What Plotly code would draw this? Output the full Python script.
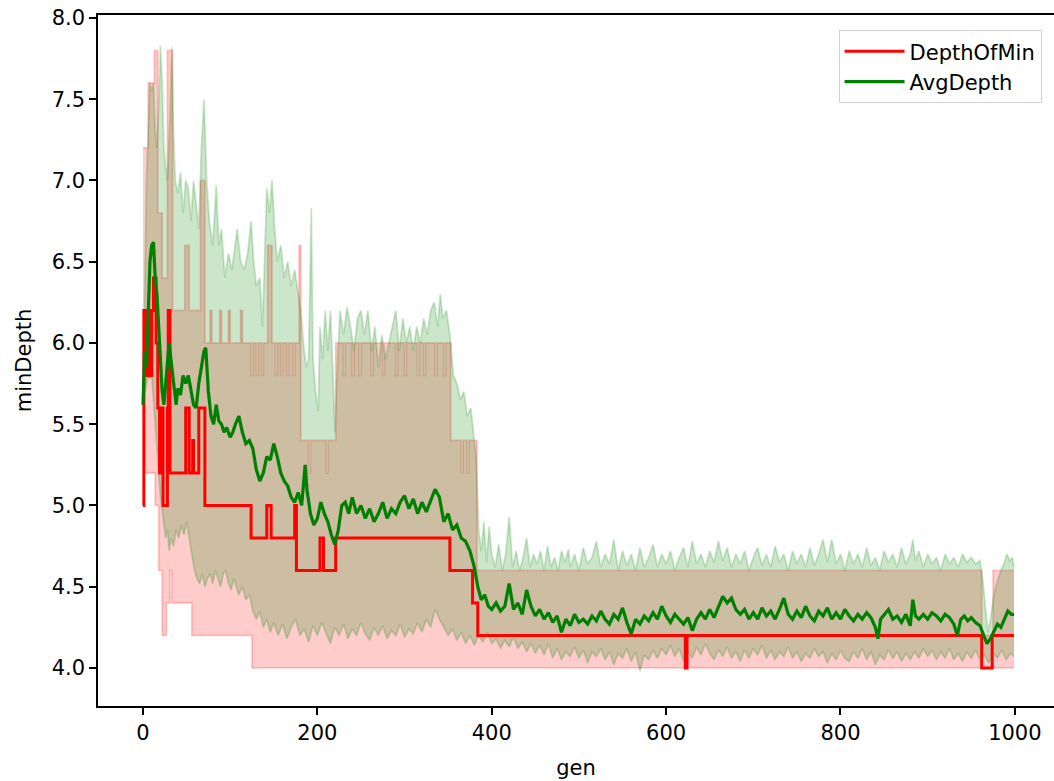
import plotly.graph_objects as go

# ---------------- data ----------------
# DepthOfMin (mean line, piecewise constant)
min_gen = [0, 1, 3, 4, 6, 7, 9, 10, 12, 15, 17, 19, 21, 23, 28, 29, 31, 49, 53, 57, 58, 64, 71,
           124, 142, 147, 174, 176, 203, 207, 221, 352, 378, 384, 622, 624, 962, 974, 999]
min_val = [5.0, 6.2, 5.8, 6.2, 5.8, 6.2, 5.8, 6.2, 6.4, 6.0, 5.6, 5.2, 5.6, 5.0, 5.6, 6.2, 5.2, 5.6, 5.2, 5.4, 5.2, 5.6, 5.0,
           4.8, 5.0, 4.8, 5.0, 4.6, 4.8, 4.6, 4.8, 4.6, 4.4, 4.2, 4.0, 4.2, 4.0, 4.2, 4.2]

# DepthOfMin band, lower edge
minlo_gen = [0, 1, 14, 18, 22, 27, 31, 33, 56, 125, 999]
minlo_val = [5.0, 5.2, 5.0, 4.6, 4.2, 4.4, 4.6, 4.4, 4.2, 4.0, 4.0]

# DepthOfMin band, upper edge
minhi_gen = [0, 6, 13, 17, 22, 28, 34, 48, 53, 66, 71, 77, 79, 88, 90, 98, 100, 112, 114,
             124, 126, 130, 132, 136, 138, 143, 148, 152, 154, 158, 160, 165, 167, 172, 174, 179, 181,
             190, 192, 210, 212, 221, 230, 232, 240, 242, 248, 250, 262, 264, 275, 277, 290, 292,
             300, 302, 315, 317, 322, 324, 335, 337, 345, 347, 353, 365, 367, 372, 374, 383, 962, 975, 999]
minhi_val = [7.2, 7.6, 7.8, 6.8, 6.4, 7.8, 6.2, 6.6, 6.2, 7.0, 6.0, 6.2, 6.0, 6.2, 6.0, 6.2, 6.0, 6.2, 6.0,
             5.8, 6.0, 5.8, 6.0, 5.8, 6.0, 6.6, 6.0, 5.8, 6.0, 5.8, 6.0, 5.8, 6.0, 5.8, 6.0, 6.6, 5.4,
             5.2, 5.4, 5.2, 5.4, 6.0, 5.8, 6.0, 5.8, 6.0, 5.8, 6.0, 5.8, 6.0, 5.8, 6.0, 5.8, 6.0,
             5.8, 6.0, 5.8, 6.0, 5.8, 6.0, 5.8, 6.0, 5.8, 6.0, 5.4, 5.2, 5.4, 5.2, 5.4, 4.6, 4.2, 4.6, 4.6]

# AvgDepth (mean line)
avg_gen = [0, 2, 4, 6, 8, 10, 12, 14, 16, 18, 20, 22, 24, 26, 28, 30, 32, 35, 38, 40, 43, 46, 49, 52, 55,
           58, 61, 64, 67, 70, 72, 75, 78, 81, 84, 87, 90, 93, 96, 100, 103, 106, 110, 114, 118, 122, 126,
           130, 134, 138, 142, 146, 150, 154, 158, 162, 166, 170, 174, 178, 182, 186, 188, 192, 196, 200,
           204, 208, 212, 216, 220, 224, 228, 232, 236, 240, 245, 250, 255, 260, 265, 270, 275, 280, 285,
           290, 295, 300, 305, 310, 315, 320, 325, 330, 335, 340, 345, 350, 355, 360, 365, 370, 375, 380,
           384, 388, 392, 396, 400, 405, 410, 415, 420, 425, 430, 435, 440, 445, 450, 455, 460, 465, 470,
           475, 480, 485, 490, 495, 500, 505, 510, 515, 520, 525, 530, 535, 540, 545, 550, 555, 560, 565,
           570, 575, 580, 585, 590, 595, 600, 605, 610, 615, 620, 625, 630, 635, 640, 645, 650, 655, 660,
           665, 670, 675, 680, 685, 690, 695, 700, 705, 710, 715, 720, 725, 730, 735, 740, 745, 750, 755,
           760, 765, 770, 775, 780, 785, 790, 795, 800, 805, 810, 815, 820, 825, 830, 835, 840, 843, 846,
           850, 855, 860, 865, 870, 875, 880, 883, 886, 890, 895, 900, 905, 910, 915, 920, 925, 930, 934,
           938, 942, 946, 950, 955, 960, 964, 968, 972, 976, 980, 984, 988, 992, 996, 999]
avg_val = [5.62, 5.95, 5.85, 6.2, 6.5, 6.6, 6.62, 6.4, 6.3, 6.1, 5.85, 5.7, 5.62, 5.75, 5.9, 6.0, 5.9, 5.75, 5.62, 5.72, 5.68, 5.8, 5.75, 5.8, 5.72,
           5.62, 5.6, 5.75, 5.85, 5.95, 5.97, 5.7, 5.55, 5.5, 5.62, 5.52, 5.5, 5.45, 5.48, 5.42, 5.45, 5.5, 5.55, 5.45, 5.38, 5.4, 5.35,
           5.22, 5.15, 5.2, 5.3, 5.28, 5.38, 5.3, 5.2, 5.15, 5.12, 5.05, 5.02, 5.08, 5.0, 5.25, 5.1, 4.95, 4.88, 4.92,
           5.02, 4.95, 4.9, 4.82, 4.76, 4.85, 5.0, 5.02, 4.95, 5.05, 4.95, 5.0, 4.92, 4.98, 4.9, 4.95, 5.02, 4.92, 4.98,
           4.95, 5.02, 5.06, 4.98, 5.04, 4.95, 5.02, 4.96, 5.03, 5.1, 5.05, 4.9, 4.95, 4.85, 4.88, 4.8, 4.78, 4.72, 4.62,
           4.5, 4.42, 4.45, 4.38, 4.36, 4.4, 4.35, 4.38, 4.52, 4.36, 4.4, 4.33, 4.48, 4.38, 4.32, 4.36, 4.3, 4.34, 4.28,
           4.32, 4.22, 4.3, 4.26, 4.33, 4.28, 4.3, 4.27, 4.32, 4.29, 4.35, 4.3, 4.27, 4.33, 4.3, 4.37, 4.28, 4.21, 4.3,
           4.27, 4.32, 4.29, 4.34, 4.3, 4.38, 4.32, 4.28, 4.33, 4.3, 4.27, 4.31, 4.23, 4.3, 4.34, 4.3, 4.36, 4.31, 4.38,
           4.44, 4.4, 4.43, 4.36, 4.33, 4.36, 4.3, 4.34, 4.3, 4.37, 4.32, 4.35, 4.3, 4.36, 4.43, 4.33, 4.3, 4.35, 4.31,
           4.38, 4.32, 4.29, 4.35, 4.32, 4.37, 4.3, 4.34, 4.3, 4.36, 4.32, 4.29, 4.33, 4.3, 4.34, 4.31, 4.25, 4.18, 4.3,
           4.33, 4.36, 4.3, 4.32, 4.28, 4.33, 4.26, 4.42, 4.32, 4.3, 4.33, 4.3, 4.34, 4.32, 4.29, 4.33, 4.31, 4.27, 4.2,
           4.3, 4.32, 4.29, 4.31, 4.28, 4.26, 4.2, 4.15, 4.18, 4.22, 4.27, 4.25, 4.3, 4.35, 4.33, 4.33]

# AvgDepth band, upper edge
avghi_gen = [0, 2, 4, 6, 8, 10, 12, 14, 16, 18, 20, 22, 24, 26, 28, 31, 33, 35, 37, 40, 43, 46, 49, 52, 55,
             58, 61, 64, 67, 70, 73, 76, 80, 84, 87, 90, 94, 98, 102, 106, 108, 112, 116, 120, 124, 127, 130,
             134, 137, 140, 142, 145, 148, 151, 154, 158, 162, 166, 170, 174, 178, 181, 184, 187, 190, 193,
             195, 198, 201, 203, 206, 209, 212, 215, 218, 220, 223, 226, 230, 234, 238, 242, 246, 250, 254,
             258, 262, 266, 270, 274, 278, 282, 286, 290, 294, 298, 302, 306, 310, 314, 318, 322, 326, 330,
             334, 338, 341, 344, 348, 352, 356, 360, 364, 368, 372, 376, 379, 382, 385, 388, 391, 394, 397,
             400, 404, 408, 412, 416, 420, 424, 428, 432, 436, 440, 444, 448, 452, 456, 460, 464, 468, 472,
             476, 480, 484, 488, 490, 495, 500, 505, 510, 515, 520, 525, 530, 535, 540, 545, 550, 555, 560,
             565, 570, 575, 580, 585, 590, 595, 600, 605, 610, 615, 620, 625, 630, 635, 640, 645, 650, 655,
             660, 665, 670, 675, 680, 685, 690, 695, 700, 705, 710, 715, 720, 725, 730, 735, 740, 745, 750,
             755, 760, 765, 770, 775, 780, 785, 790, 795, 800, 805, 810, 815, 820, 825, 830, 835, 840, 845,
             850, 855, 860, 865, 870, 875, 880, 883, 886, 890, 895, 900, 905, 910, 915, 920, 925, 930, 935,
             940, 945, 950, 955, 960, 963, 966, 969, 972, 975, 978, 981, 984, 988, 991, 994, 997, 999]
avghi_val = [5.65, 6.3, 7.0, 7.3, 7.6, 7.55, 7.6, 7.3, 7.2, 7.45, 7.83, 7.6, 7.2, 7.08, 7.0, 7.4, 7.82, 7.3, 7.0, 6.92, 7.05, 6.8, 7.0, 6.95, 6.75,
             7.0, 6.85, 6.7, 7.2, 7.5, 7.0, 6.75, 6.6, 6.97, 6.6, 6.7, 6.4, 6.55, 6.45, 6.6, 6.7, 6.5, 6.45, 6.55, 6.75, 6.5, 6.35,
             6.4, 6.1, 6.6, 6.95, 6.8, 7.0, 6.7, 6.5, 6.6, 6.4, 6.5, 6.35, 6.45, 6.3, 6.2, 6.0, 5.85, 5.9, 6.83,
             5.9, 5.7, 5.58, 6.1, 5.9, 6.2, 5.95, 6.2, 5.8, 5.45, 5.85, 6.2, 6.05, 6.22, 6.1, 5.95, 6.15, 6.2, 6.05,
             6.2, 5.95, 6.1, 5.85, 6.05, 5.9, 6.0, 6.1, 6.2, 5.95, 6.15, 6.0, 6.1, 5.95, 6.1, 6.0, 6.15, 6.05, 6.2,
             6.25, 6.1, 6.3, 6.15, 6.2, 6.05, 5.8, 5.75, 5.65, 5.7, 5.55, 5.6, 5.45, 5.3, 4.85, 4.72, 4.9, 4.65, 4.87,
             4.7, 4.62, 4.76, 4.6, 4.7, 4.93, 4.62, 4.72, 4.6, 4.68, 4.8, 4.62, 4.7, 4.64, 4.72, 4.6, 4.75, 4.62, 4.68,
             4.6, 4.72, 4.65, 4.73, 4.62, 4.7, 4.6, 4.74, 4.64, 4.68, 4.78, 4.62, 4.7, 4.64, 4.79, 4.6, 4.72, 4.63, 4.7,
             4.6, 4.74, 4.62, 4.68, 4.76, 4.62, 4.7, 4.64, 4.72, 4.6, 4.68, 4.74, 4.62, 4.78, 4.64, 4.7, 4.62, 4.72, 4.65,
             4.78, 4.66, 4.74, 4.62, 4.7, 4.64, 4.72, 4.6, 4.68, 4.74, 4.63, 4.7, 4.62, 4.75, 4.65, 4.7, 4.6, 4.72, 4.64,
             4.7, 4.62, 4.74, 4.63, 4.7, 4.79, 4.65, 4.79, 4.64, 4.7, 4.6, 4.72, 4.64, 4.7, 4.62, 4.74, 4.63, 4.68, 4.6,
             4.72, 4.65, 4.7, 4.62, 4.74, 4.64, 4.7, 4.79, 4.66, 4.72, 4.62, 4.7, 4.64, 4.68, 4.6, 4.7, 4.64, 4.68, 4.62,
             4.7, 4.65, 4.68, 4.64, 4.66, 4.55, 4.4, 4.22, 4.3, 4.42, 4.5, 4.55, 4.6, 4.65, 4.7, 4.66, 4.68, 4.62]

# AvgDepth band, lower edge
avglo_gen = [0, 2, 4, 6, 8, 10, 12, 14, 16, 18, 20, 22, 24, 26, 28, 30, 32, 35, 38, 41, 44, 47, 50, 53, 56,
             59, 62, 65, 68, 71, 74, 77, 80, 83, 86, 89, 92, 95, 98, 101, 104, 107, 110, 114, 118, 122, 126,
             130, 134, 138, 142, 146, 150, 155, 160, 165, 170, 175, 180, 185, 190, 195, 200, 205, 210, 215,
             220, 225, 230, 235, 240, 245, 250, 255, 260, 265, 270, 275, 280, 285, 290, 295, 300, 305, 310,
             315, 320, 325, 330, 335, 340, 345, 350, 355, 360, 365, 370, 375, 380, 385, 390, 395, 400, 405,
             410, 415, 420, 425, 430, 435, 440, 445, 450, 455, 460, 465, 470, 475, 480, 485, 490, 495, 500,
             505, 510, 515, 520, 525, 530, 535, 540, 545, 550, 555, 560, 565, 570, 575, 580, 585, 590, 595,
             600, 605, 610, 615, 620, 625, 630, 635, 640, 645, 650, 655, 660, 665, 670, 675, 680, 685, 690,
             695, 700, 705, 710, 715, 720, 725, 730, 735, 740, 745, 750, 755, 760, 765, 770, 775, 780, 785,
             790, 795, 800, 805, 810, 815, 820, 825, 830, 835, 840, 845, 850, 855, 860, 865, 870, 875, 880,
             885, 890, 895, 900, 905, 910, 915, 920, 925, 930, 935, 940, 945, 950, 955, 960, 965, 970, 975,
             980, 985, 990, 995, 999]
avglo_val = [5.62, 5.7, 5.75, 5.8, 5.78, 5.8, 5.65, 5.5, 5.3, 5.15, 5.05, 4.97, 4.9, 4.8, 4.85, 4.72, 4.8, 4.75, 4.85, 4.8, 4.88, 4.82, 4.9, 4.8, 4.68,
             4.6, 4.55, 4.52, 4.58, 4.5, 4.55, 4.58, 4.52, 4.6, 4.55, 4.5, 4.58, 4.6, 4.52, 4.48, 4.55, 4.5, 4.45, 4.5, 4.42, 4.45, 4.35,
             4.3, 4.35, 4.25, 4.3, 4.22, 4.28, 4.2, 4.27, 4.18, 4.25, 4.3, 4.2, 4.24, 4.16, 4.26, 4.2, 4.28, 4.22, 4.15,
             4.25, 4.2, 4.27, 4.18, 4.24, 4.2, 4.28, 4.21, 4.17, 4.25, 4.2, 4.26, 4.18, 4.23, 4.2, 4.27, 4.19, 4.24, 4.21,
             4.28, 4.22, 4.3, 4.25, 4.36, 4.3, 4.25, 4.2, 4.24, 4.17, 4.22, 4.15, 4.2, 4.14, 4.2, 4.16, 4.22, 4.15, 4.18,
             4.12, 4.17, 4.13, 4.19, 4.12, 4.16, 4.1, 4.15, 4.09, 4.14, 4.08, 4.15, 4.06, 4.12, 4.05, 4.1, 4.07, 4.13, 4.06,
             4.11, 4.03, 4.1, 4.07, 4.12, 4.05, 4.1, 4.02, 4.09, 4.06, 4.12, 4.04, 4.1, 3.98, 4.08, 4.05, 4.11, 4.06, 4.12,
             4.08, 4.14, 4.07, 4.12, 4.04, 4.1, 4.06, 4.13, 4.08, 4.15, 4.09, 4.05, 4.11, 4.07, 4.13, 4.06, 4.1, 4.04, 4.11,
             4.06, 4.12, 4.08, 4.14, 4.06, 4.11, 4.05, 4.1, 4.07, 4.13, 4.06, 4.1, 4.04, 4.09, 4.06, 4.12, 4.07, 4.1, 4.03,
             4.09, 4.05, 4.11, 4.06, 4.04, 4.1, 4.06, 4.12, 4.05, 4.1, 4.02, 4.08, 4.05, 4.11, 4.06, 4.1, 4.04, 4.09, 4.05,
             4.1, 4.06, 4.12, 4.07, 4.11, 4.05, 4.1, 4.06, 4.12, 4.05, 4.09, 4.04, 4.1, 4.06, 4.11, 4.05, 4.08, 4.03, 4.09,
             4.06, 4.11, 4.05, 4.09, 4.07]

x_ticks = [0, 200, 400, 600, 800, 1000]
y_ticks = [4.0, 4.5, 5.0, 5.5, 6.0, 6.5, 7.0, 7.5, 8.0]

# ---------------- figure ----------------
RED_FILL = "rgba(255,0,0,0.2)"
GREEN_FILL = "rgba(0,128,0,0.2)"
FS = 21

fig = go.Figure()

# red band
fig.add_trace(go.Scatter(x=minlo_gen, y=minlo_val, mode="lines", line=dict(color=RED_FILL, width=1.8, shape="hv"),
                         showlegend=False, hoverinfo="skip"))
fig.add_trace(go.Scatter(x=minhi_gen, y=minhi_val, mode="lines", line=dict(color=RED_FILL, width=1.8, shape="hv"),
                         fill="tonexty", fillcolor=RED_FILL, showlegend=False, hoverinfo="skip"))
# green band
fig.add_trace(go.Scatter(x=avglo_gen, y=avglo_val, mode="lines", line=dict(color=GREEN_FILL, width=1.8),
                         showlegend=False, hoverinfo="skip"))
fig.add_trace(go.Scatter(x=avghi_gen, y=avghi_val, mode="lines", line=dict(color=GREEN_FILL, width=1.8),
                         fill="tonexty", fillcolor=GREEN_FILL, showlegend=False, hoverinfo="skip"))
# lines
fig.add_trace(go.Scatter(x=min_gen, y=min_val, mode="lines", name="DepthOfMin", legendgroup="a",
                         line=dict(color="red", width=3, shape="hv")))
fig.add_trace(go.Scatter(x=avg_gen, y=avg_val, mode="lines", name="AvgDepth", legendgroup="b",
                         line=dict(color="green", width=3.2)))

font = dict(family="DejaVu Sans", size=FS, color="black")

fig.update_layout(
    width=1054, height=781,
    margin=dict(l=98, r=0, t=15, b=75),
    paper_bgcolor="white", plot_bgcolor="white",
    font=font,
    legend=dict(x=0.987, y=0.978, xanchor="right", yanchor="top", bgcolor="rgba(255,255,255,0.8)",
                bordercolor="#d0d0d0", borderwidth=1, font=font, traceorder="normal",
                tracegroupgap=9, itemwidth=60),
    xaxis=dict(range=[-51.6, 1044.9], tickvals=x_ticks, ticktext=[str(v) for v in x_ticks],
               showline=True, linecolor="black", linewidth=1.5, mirror=True,
               ticks="outside", ticklen=7, tickwidth=1.5, tickcolor="black", showgrid=False, zeroline=False,
               title=dict(text="gen", standoff=16, font=font)),
    yaxis=dict(range=[3.766, 8.018], tickvals=y_ticks, ticktext=[f"{v:.1f}" for v in y_ticks],
               showline=True, linecolor="black", linewidth=1.5, mirror=False,
               ticks="outside", ticklen=7, tickwidth=1.5, tickcolor="black", showgrid=False, zeroline=False,
               title=dict(text="minDepth", standoff=14, font=font)),
)

fig.write_html("out.html")
